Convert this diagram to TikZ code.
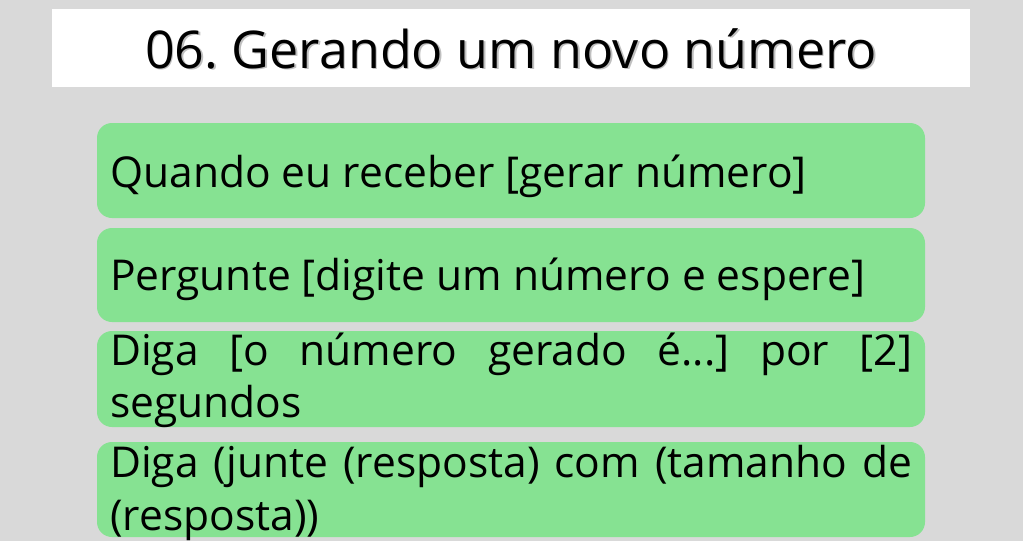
\documentclass[tikz,border=0pt]{standalone}
\usepackage{fontspec}
\setmainfont{Open Sans}
\definecolor{bg}{HTML}{D9D9D9}
\definecolor{blockgreen}{HTML}{86E292}
\frenchspacing
\begin{document}
\begin{tikzpicture}[x=1pt,y=-1pt,
  block/.style={fill=blockgreen, rounded corners=15pt, draw=none},
  txt/.style={anchor=base west, inner sep=0pt, font=\fontsize{42.5}{50}\selectfont\frenchspacing, text=black},
  ttl/.style={anchor=base, inner sep=0pt, font=\fontsize{52}{60}\selectfont\frenchspacing, text=black}]
\useasboundingbox (0,0) rectangle (1023,541);
\fill[bg] (0,0) rectangle (1023,541);
\fill[white] (52,9) rectangle (970,87);
\node[ttl, text=black!25, xshift=1.5pt, yshift=-1.5pt] at (511,68) {06. Gerando um novo número};
\node[ttl] (title) at (511,68) {06. Gerando um novo número};
\fill[block] (97,123) rectangle (925,218);
\fill[block] (97,228) rectangle (925,322);
\fill[block] (97,331) rectangle (925,427);
\fill[block] (97,442) rectangle (925,537);
\node[txt] (t1) at (110,187) {Quando eu receber [gerar número]};
\node[txt] (t2) at (110,290) {Pergunte [digite um número e espere]};
\node[txt] (t3a) at (110,365) {\makebox[802pt][s]{Diga [o número gerado é...] por [2]}};
\node[txt] (t3b) at (110,417) {segundos};
\node[txt] (t4a) at (110,477) {\makebox[802pt][s]{Diga (junte (resposta) com (tamanho de}};
\node[txt] (t4b) at (110,530) {(resposta))};
\end{tikzpicture}
\end{document}
